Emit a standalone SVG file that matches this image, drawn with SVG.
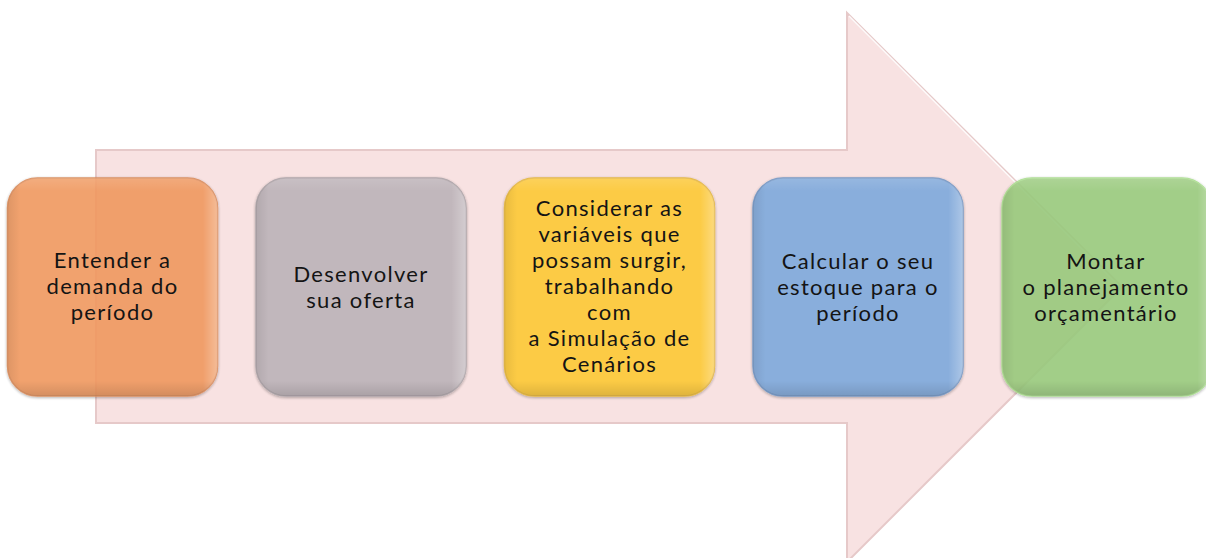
<svg xmlns="http://www.w3.org/2000/svg" width="1206" height="558" viewBox="0 0 1206 558">
  <style>
    .lbl { font-family: Lato, "Noto Sans", "Liberation Sans", sans-serif; font-size: 22px; letter-spacing: 1.3px; fill: #141414; text-anchor: middle; }
    .box { stroke-width: 1.5; opacity: 0.9; }
    .hl { fill: url(#bevel); pointer-events: none; }
  </style>
  <defs>
    <linearGradient id="bevel" x1="0" y1="0" x2="1" y2="0">
      <stop offset="0" stop-color="#000" stop-opacity="0.08"/>
      <stop offset="0.06" stop-color="#000" stop-opacity="0"/>
      <stop offset="0.93" stop-color="#fff" stop-opacity="0"/>
      <stop offset="1" stop-color="#fff" stop-opacity="0.3"/>
    </linearGradient>
    <linearGradient id="bevelV" x1="0" y1="0" x2="0" y2="1">
      <stop offset="0" stop-color="#fff" stop-opacity="0.12"/>
      <stop offset="0.06" stop-color="#fff" stop-opacity="0"/>
      <stop offset="0.93" stop-color="#000" stop-opacity="0"/>
      <stop offset="1" stop-color="#000" stop-opacity="0.12"/>
    </linearGradient>
    <filter id="sh" x="-10%" y="-10%" width="120%" height="120%">
      <feGaussianBlur in="SourceAlpha" stdDeviation="1.5"/>
      <feOffset dx="0" dy="1" result="b"/>
      <feComponentTransfer><feFuncA type="linear" slope="0.35"/></feComponentTransfer>
      <feMerge><feMergeNode/><feMergeNode in="SourceGraphic"/></feMerge>
    </filter>
  </defs>

  <rect width="1206" height="558" fill="#ffffff"/>

  <g id="connectors">
    <path id="big-arrow" d="M96 150 L847 150 L847 13 L1122 287 L847 562 L847 423 L96 423 Z" fill="#f8e2e2" stroke="#e6c9c9" stroke-width="2"/>
    <path d="M849 16 L1118 285" stroke="#ffffff" stroke-width="1.5" fill="none" opacity="0.9"/>
  </g>

  <g id="node1">
    <rect class="box" x="7.5" y="178" width="210" height="218" rx="30" fill="#f0985f" stroke="#d98a58" filter="url(#sh)"/>
    <rect x="7.5" y="178" width="210" height="218" rx="30" class="hl"/>
    <rect x="7.5" y="178" width="210" height="218" rx="30" fill="url(#bevelV)"/>
    <text class="lbl" x="112.5" y="268">Entender a</text>
    <text class="lbl" x="112.5" y="294">demanda do</text>
    <text class="lbl" x="112.5" y="320">período</text>
  </g>

  <g id="node2">
    <rect class="box" x="256" y="178" width="210" height="218" rx="30" fill="#bcb3b8" stroke="#a9a1a6" filter="url(#sh)"/>
    <rect x="256" y="178" width="210" height="218" rx="30" class="hl"/>
    <rect x="256" y="178" width="210" height="218" rx="30" fill="url(#bevelV)"/>
    <text class="lbl" x="361" y="282">Desenvolver</text>
    <text class="lbl" x="361" y="308">sua oferta</text>
  </g>

  <g id="node3">
    <rect class="box" x="504.5" y="178" width="210" height="218" rx="30" fill="#fdc935" stroke="#e4b53a" filter="url(#sh)"/>
    <rect x="504.5" y="178" width="210" height="218" rx="30" class="hl"/>
    <rect x="504.5" y="178" width="210" height="218" rx="30" fill="url(#bevelV)"/>
    <text class="lbl" x="609.5" y="216">Considerar as</text>
    <text class="lbl" x="609.5" y="242">variáveis que</text>
    <text class="lbl" x="609.5" y="268">possam surgir,</text>
    <text class="lbl" x="609.5" y="294">trabalhando</text>
    <text class="lbl" x="609.5" y="320">com</text>
    <text class="lbl" x="609.5" y="346">a Simulação de</text>
    <text class="lbl" x="609.5" y="372">Cenários</text>
  </g>

  <g id="node4">
    <rect class="box" x="753" y="178" width="210" height="218" rx="30" fill="#7ea9dc" stroke="#6f95c4" filter="url(#sh)"/>
    <rect x="753" y="178" width="210" height="218" rx="30" class="hl"/>
    <rect x="753" y="178" width="210" height="218" rx="30" fill="url(#bevelV)"/>
    <text class="lbl" x="858" y="269">Calcular o seu</text>
    <text class="lbl" x="858" y="295">estoque para o</text>
    <text class="lbl" x="858" y="321">período</text>
  </g>

  <g id="node5">
    <rect class="box" x="1002" y="178" width="210" height="218" rx="30" fill="#98c97b" stroke="#a8dc8c" filter="url(#sh)"/>
    <rect x="1002" y="178" width="210" height="218" rx="30" class="hl"/>
    <rect x="1002" y="178" width="210" height="218" rx="30" fill="url(#bevelV)"/>
    <text class="lbl" x="1106" y="269">Montar</text>
    <text class="lbl" x="1106" y="295">o planejamento</text>
    <text class="lbl" x="1106" y="321">orçamentário</text>
  </g>
</svg>
